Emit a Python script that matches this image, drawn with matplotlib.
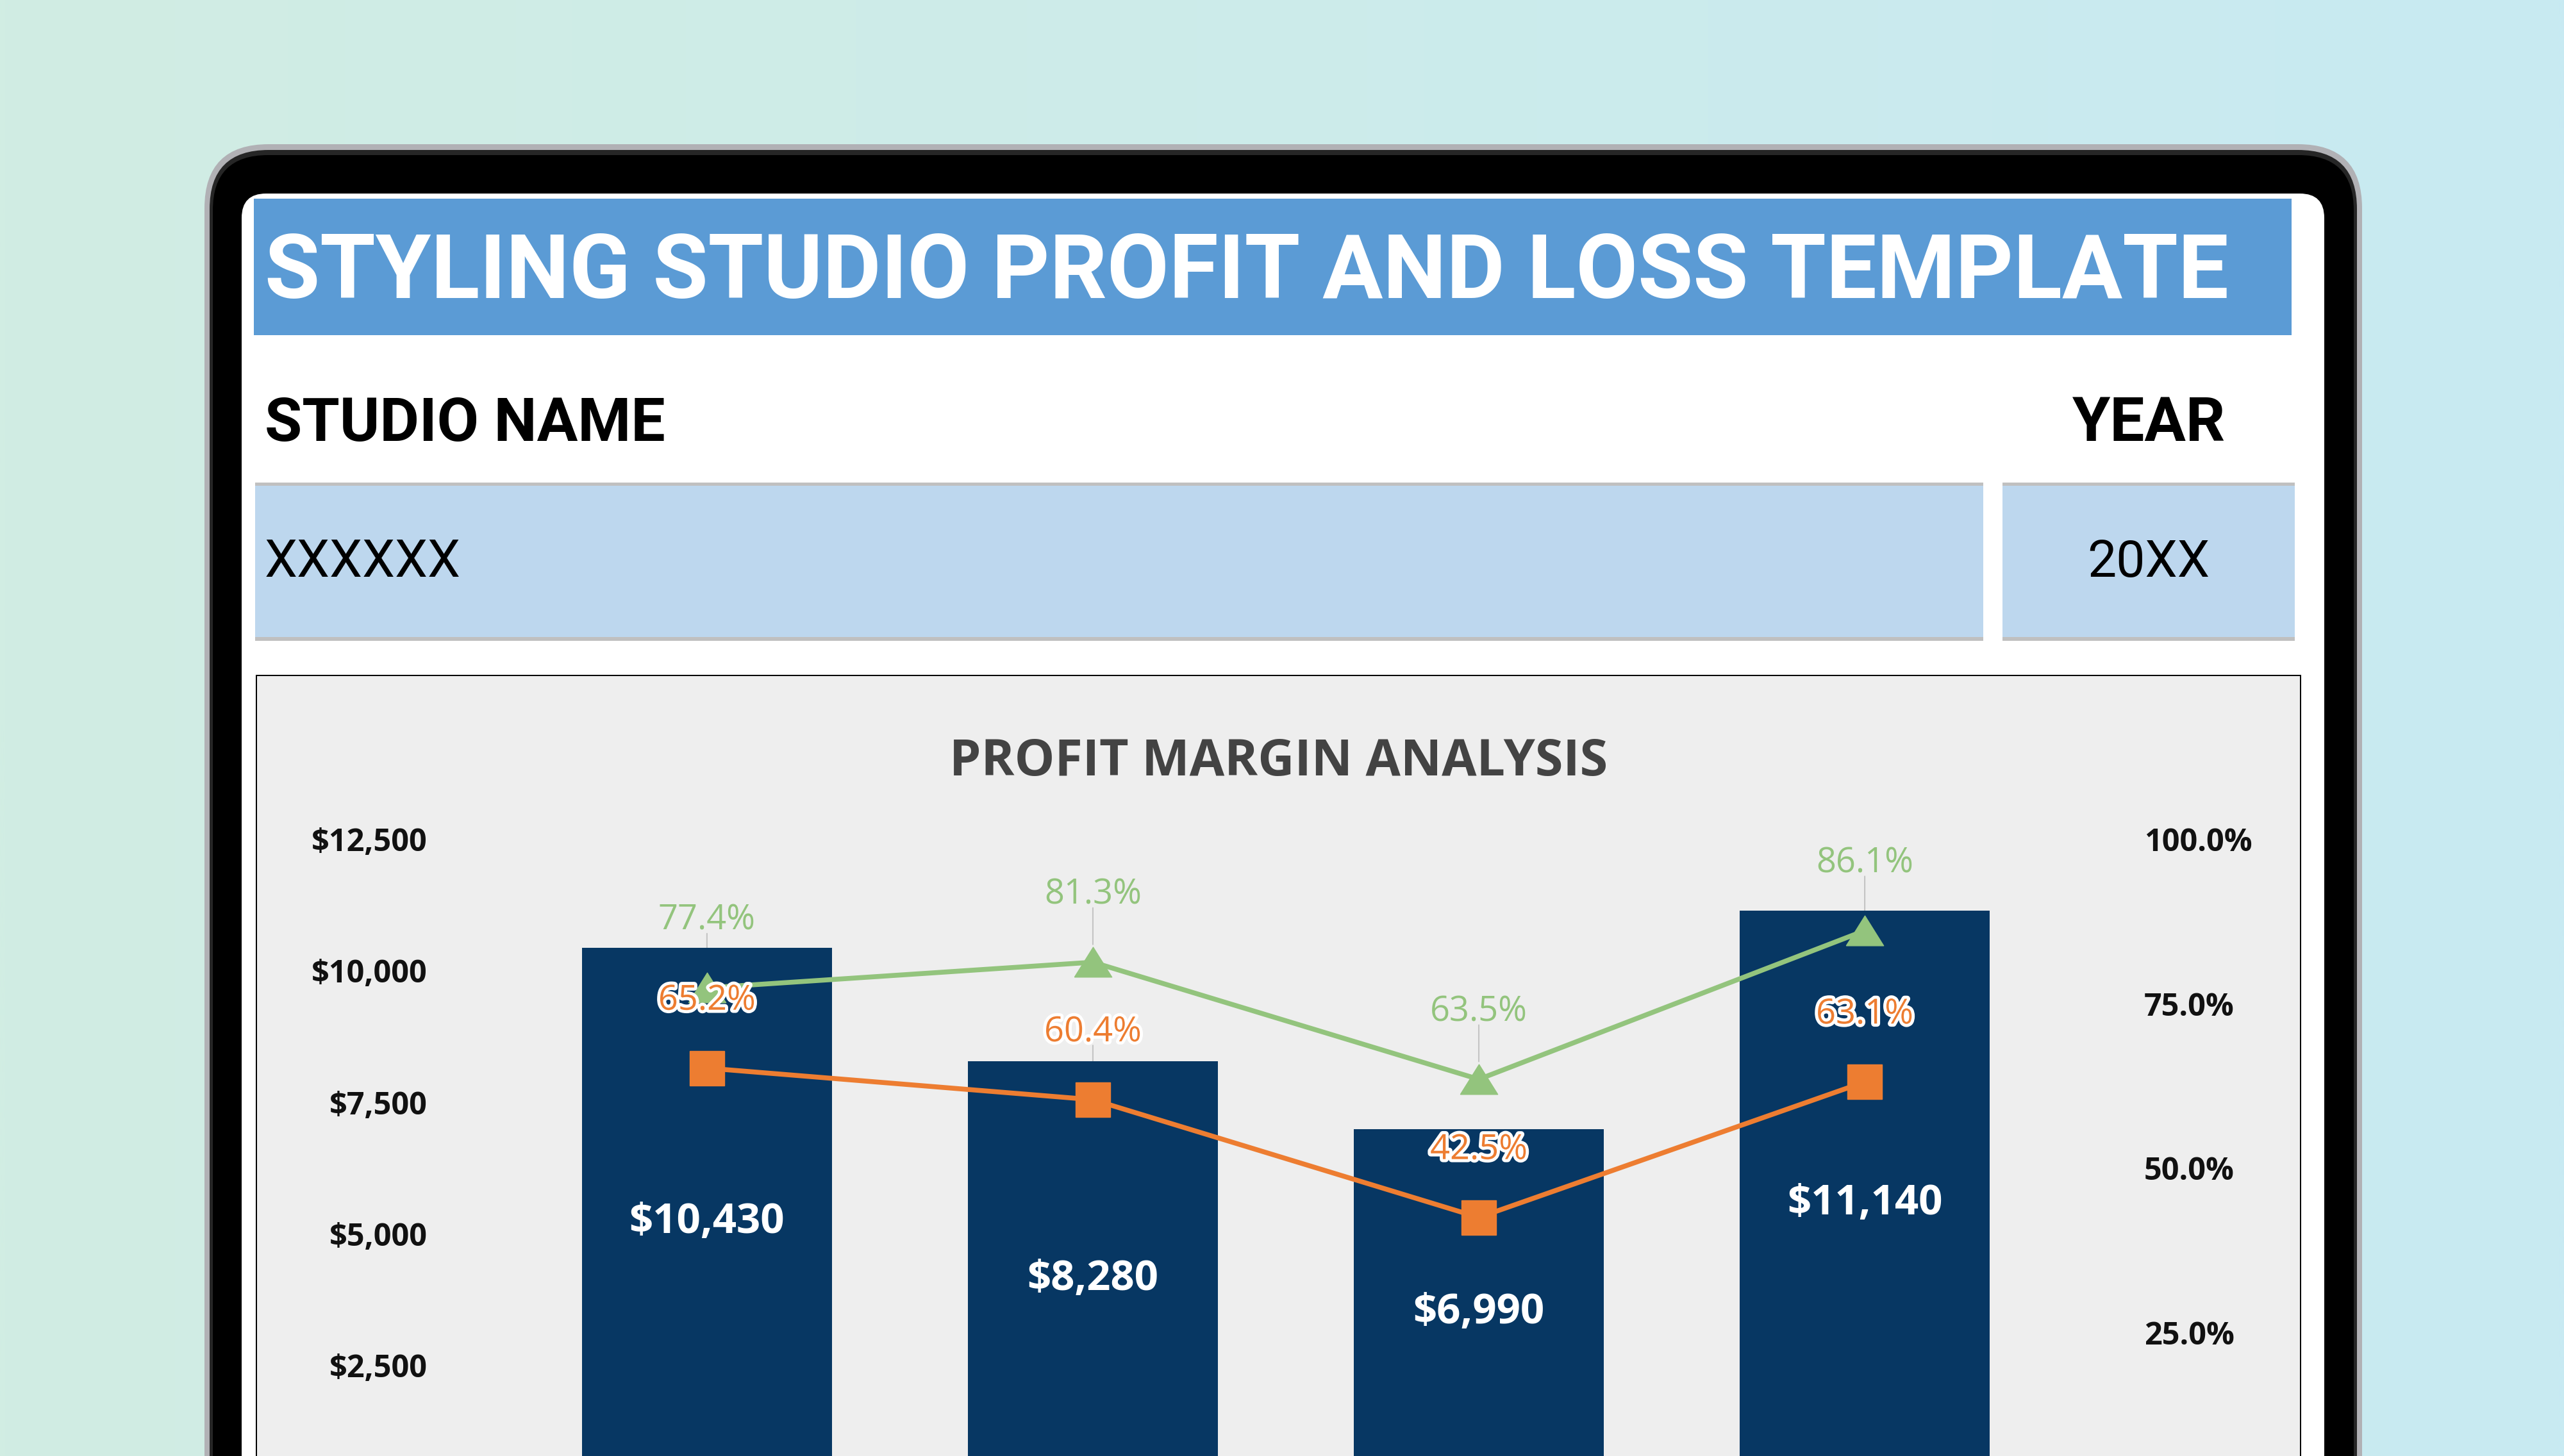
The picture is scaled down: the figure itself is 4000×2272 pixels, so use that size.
import numpy as np
import matplotlib
matplotlib.use("Agg")
import matplotlib.pyplot as plt
from matplotlib.patches import FancyBboxPatch, Rectangle
from matplotlib import font_manager as fm
import matplotlib.patheffects as pe

# ---------------- data ----------------
categories = ["Q1", "Q2", "Q3", "Q4"]
revenue = [10430, 8280, 6990, 11140]
gross_margin = [77.4, 81.3, 63.5, 86.1]
net_margin = [65.2, 60.4, 42.5, 63.1]
left_ticks = [2500, 5000, 7500, 10000, 12500]
right_ticks = [25.0, 50.0, 75.0, 100.0]

page_title = "STYLING STUDIO PROFIT AND LOSS TEMPLATE"
name_label = "STUDIO NAME"
year_label = "YEAR"
name_value = "XXXXXX"
year_value = "20XX"
chart_title = "PROFIT MARGIN ANALYSIS"

# ---------------- style ----------------
W, H, DPI = 4000, 2272, 100
PT = 72.0 / DPI  # points per pixel

avail = {f.name for f in fm.fontManager.ttflist}
def pick(*names):
    for n in names:
        if n in avail:
            return n
    return "DejaVu Sans"

F_HEAD = pick("Roboto", "Inter", "Open Sans")
F_CHART = pick("Open Sans", "Lato", "Roboto")

C_BANNER = "#5b9bd5"
C_BOX = "#bdd7ee"
C_CHART = "#eeeeee"
C_BAR = "#073763"
C_GREEN = "#93c47d"
C_ORANGE = "#ed7d31"

fig = plt.figure(figsize=(W / DPI, H / DPI), dpi=DPI)
bg = fig.add_axes([0, 0, 1, 1], zorder=0)
bg.set_xlim(0, W)
bg.set_ylim(H, 0)
bg.axis("off")

# background gradient
c1 = np.array(matplotlib.colors.to_rgb("#d1ede3"))
c2 = np.array(matplotlib.colors.to_rgb("#c8eaf2"))
t = np.linspace(0, 1, 256)[None, :, None]
grad = c1 * (1 - t) + c2 * t
bg.imshow(grad, extent=[0, W, H, 0], aspect="auto", interpolation="bilinear", zorder=0)

def rbox(x0, y0, x1, y1, r, fc, ec="none", lw=0, z=1):
    p = FancyBboxPatch((x0, y0), x1 - x0, y1 - y0,
                       boxstyle=f"round,pad=0,rounding_size={r}",
                       fc=fc, ec=ec, lw=lw, zorder=z)
    bg.add_patch(p)
    return p

# device frame
rbox(319, 225, 3685, 2500, 100, "#b1b1b5", z=1)
rbox(327, 234, 3677, 2500, 92, "#262626", z=2)
rbox(332, 242, 3672, 2500, 86, "#000000", z=3)
rbox(377, 302, 3626, 2500, 38, "#ffffff", z=4)

# banner
bg.add_patch(Rectangle((396, 310), 3575 - 396, 523 - 310, fc=C_BANNER, ec="none", zorder=5))

# input boxes
for (x0, x1) in [(398, 3094), (3124, 3580)]:
    bg.add_patch(Rectangle((x0, 755), x1 - x0, 999 - 755, fc=C_BOX, ec="none", zorder=5))
    bg.add_patch(Rectangle((x0, 753), x1 - x0, 5, fc="#c0c0c0", ec="none", zorder=6))
    bg.add_patch(Rectangle((x0, 994), x1 - x0, 6, fc="#c0c0c0", ec="none", zorder=6))

# chart box
bg.add_patch(Rectangle((400, 1054), 3589 - 400, 2500 - 1054, fc=C_CHART,
                       ec="black", lw=2 * PT, zorder=5))

renderer = fig.canvas.get_renderer()
def fit(txt, target_w):
    bb = txt.get_window_extent(renderer)
    txt.set_fontsize(txt.get_fontsize() * target_w / bb.width)

t1 = bg.text(413, 465, page_title, color="white", fontsize=98, fontweight="bold",
             family=F_HEAD, ha="left", va="baseline", zorder=7)
fit(t1, 3065)
t2 = bg.text(413, 688, name_label, color="black", fontsize=62, fontweight="bold",
             family=F_HEAD, ha="left", va="baseline", zorder=7)
fit(t2, 625)
t3 = bg.text(3352, 688, year_label, color="black", fontsize=62, fontweight="bold",
             family=F_HEAD, ha="center", va="baseline", zorder=7)
fit(t3, 239)
t4 = bg.text(413, 900, name_value, color="black", fontsize=55, family=F_HEAD,
             ha="left", va="baseline", zorder=7)
fit(t4, 306)
t5 = bg.text(3352, 900, year_value, color="black", fontsize=55, family=F_HEAD,
             ha="center", va="baseline", zorder=7)
fit(t5, 191)
t6 = bg.text(1995, 1210, chart_title, color="#434343", fontsize=56, fontweight="bold",
             family=F_CHART, ha="center", va="baseline", zorder=7)
fit(t6, 1025)

# ---------------- chart axes ----------------
y0pix, y1pix = 2336.0, 1309.5
xl, xr = 667.0, 3345.0
ax = fig.add_axes([xl / W, 1 - y0pix / H, (xr - xl) / W, (y0pix - y1pix) / H], zorder=2)
ax.patch.set_visible(False)
x = np.arange(len(categories))
ax.set_xlim(-0.724, 3.724)
ax.set_ylim(0, 12500)
for s in ax.spines.values():
    s.set_visible(False)
ax.set_xticks([])
ax.set_yticks(left_ticks)
ax.set_yticklabels([f"${v:,.0f}" for v in left_ticks])
ax.tick_params(axis="y", length=0, pad=0, labelsize=35, labelcolor="#111111")
for lab in ax.get_yticklabels():
    lab.set_fontfamily(F_CHART)
    lab.set_fontweight("bold")

ax2 = ax.twinx()
ax2.set_ylim(0, 100)
ax2.patch.set_visible(False)
for s in ax2.spines.values():
    s.set_visible(False)
ax2.set_yticks(right_ticks)
ax2.set_yticklabels([f"{v:.1f}%" for v in right_ticks])
ax2.tick_params(axis="y", length=0, pad=0, labelsize=35, labelcolor="#111111")
for lab in ax2.get_yticklabels():
    lab.set_fontfamily(F_CHART)
    lab.set_fontweight("bold")

bars = ax.bar(x, revenue, width=0.648, color=C_BAR, zorder=2, lw=0)
for xi, r in zip(x, revenue):
    ax.text(xi, r / 2, f"${r:,.0f}", color="white", fontsize=47, fontweight="bold",
            family=F_CHART, ha="center", va="center", zorder=3)

tri = [(-1, -0.8), (1, -0.8), (0, 0.8), (-1, -0.8)]
ax2.plot(x, gross_margin, color=C_GREEN, lw=5.5, marker=tri, ms=42, zorder=3)
ax2.plot(x, net_margin, color=C_ORANGE, lw=5.5, marker="s", ms=39, zorder=4)

LABEL_OFF = 76
for series, col, glow, mhalf in [(gross_margin, C_GREEN, False, 20), (net_margin, C_ORANGE, True, 20)]:
    for xi, v in zip(x, series):
        # leader line (behind the bars)
        ax.annotate("", xy=(xi, v), xycoords=ax2.transData,
                    xytext=(0, LABEL_OFF - 15), textcoords="offset points",
                    arrowprops=dict(arrowstyle="-", color="#c4c4c4", lw=1.5,
                                    shrinkA=0, shrinkB=mhalf),
                    zorder=1)
        kw = {}
        if glow:
            kw["path_effects"] = [pe.withStroke(linewidth=7, foreground="white")]
        ax2.annotate(f"{v:.1f}%", xy=(xi, v), xytext=(0, LABEL_OFF),
                     textcoords="offset points", ha="center", va="center",
                     fontsize=39, color=col, family=F_CHART, zorder=6,
                     annotation_clip=False, **kw)

fig.savefig("out.png", dpi=DPI)
